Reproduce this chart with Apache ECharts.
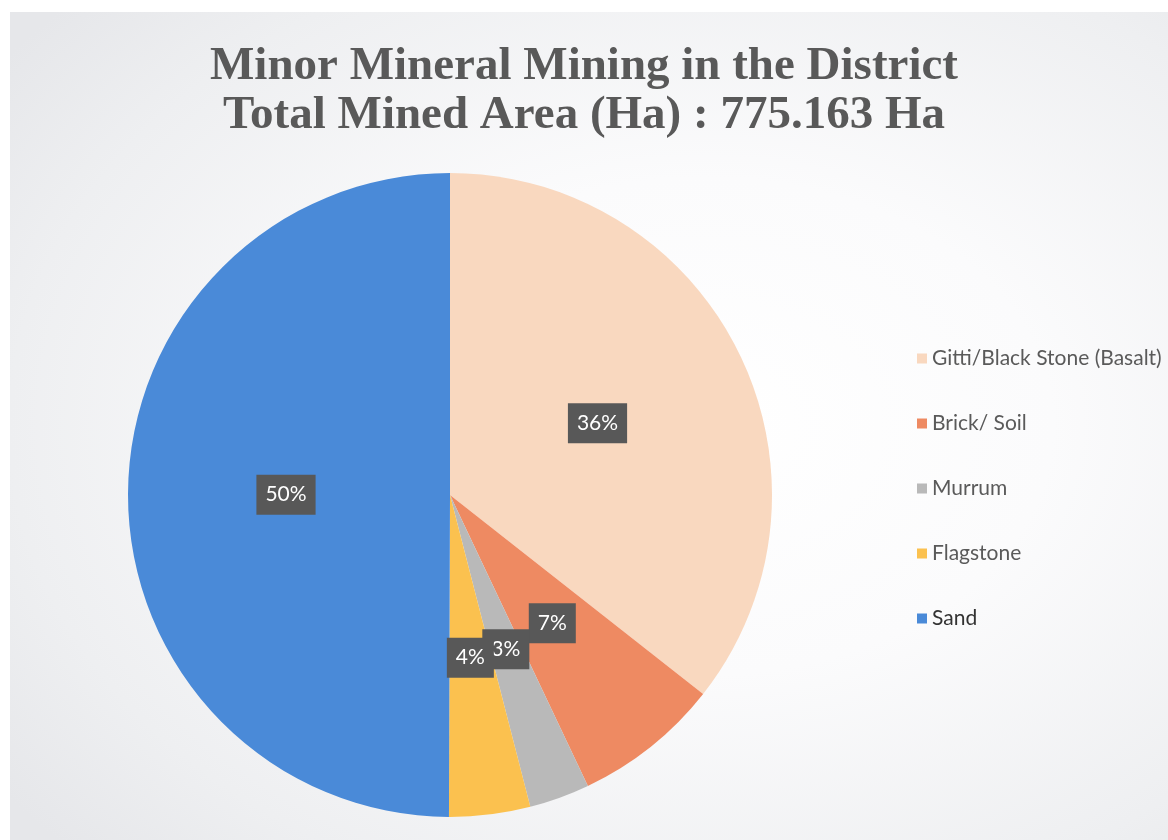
<!DOCTYPE html>
<html>
<head>
<meta charset="utf-8">
<script src="https://cdn.jsdelivr.net/npm/echarts@6/dist/echarts.min.js"></script>
<style>
html,body{margin:0;padding:0;background:#ffffff;}
#wrap{position:absolute;left:0;top:0;width:1168px;height:840px;background:#ffffff;}
#panel{position:absolute;left:10px;top:12px;width:1158px;height:828px;
background:radial-gradient(ellipse 75% 75% at 60% 50%, #ffffff 0%, #fbfbfc 40%, #eeeff1 80%, #e6e7ea 100%);}
#chart{position:absolute;left:0;top:0;width:1168px;height:840px;}
</style>
</head>
<body>
<div id="wrap"><div id="panel"></div><div id="chart"></div></div>
<script>
const titleLines = ['Minor Mineral Mining in the District', 'Total Mined Area (Ha) : 775.163 Ha'];
const categories = ['Gitti/Black Stone (Basalt)', 'Brick/ Soil', 'Murrum', 'Flagstone', 'Sand'];
const areas = [276.0, 57.0, 23.5, 31.5, 387.2];
const colors = ['#f9d8bf', '#ee8a62', '#b9b9b9', '#fbc14f', '#4a8ad8'];

const chart = echarts.init(document.getElementById('chart'), null, {renderer: 'canvas'});
chart.setOption({
  backgroundColor: 'transparent',
  animation: false,
  title: {
    text: titleLines.join('\n'),
    left: 'center',
    top: 37,
    textStyle: {
      fontFamily: 'Liberation Serif',
      fontWeight: 'bold',
      fontSize: 47,
      lineHeight: 49,
      color: '#595959'
    }
  },
  legend: {
    orient: 'vertical',
    left: 912,
    top: 343,
    itemGap: 44,
    itemWidth: 10,
    itemHeight: 10,
    icon: 'rect',
    textStyle: {fontFamily: 'Lato', fontSize: 21, color: '#5a5a5a', padding: [0, 0, 0, 0]},
    data: categories.map((c, i) => ({name: c, textStyle: i === 4 ? {color: '#333333'} : {}}))
  },
  series: [{
    type: 'pie',
    center: [450, 495],
    radius: [0, 322],
    startAngle: 90,
    clockwise: true,
    avoidLabelOverlap: false,
    minShowLabelAngle: 0,
    labelLayout: {hideOverlap: false},
    label: {
      show: true,
      position: 'inside',
      formatter: p => Math.round(p.percent) + '%',
      color: '#ffffff',
      fontFamily: 'Lato',
      fontSize: 21,
      backgroundColor: '#585858',
      padding: [10, 9, 9, 9]
    },
    labelLine: {show: false},
    itemStyle: {borderWidth: 0},
    emphasis: {disabled: true},
    data: categories.map((c, i) => ({name: c, value: areas[i], itemStyle: {color: colors[i]}}))
  }]
});
</script>
</body>
</html>
